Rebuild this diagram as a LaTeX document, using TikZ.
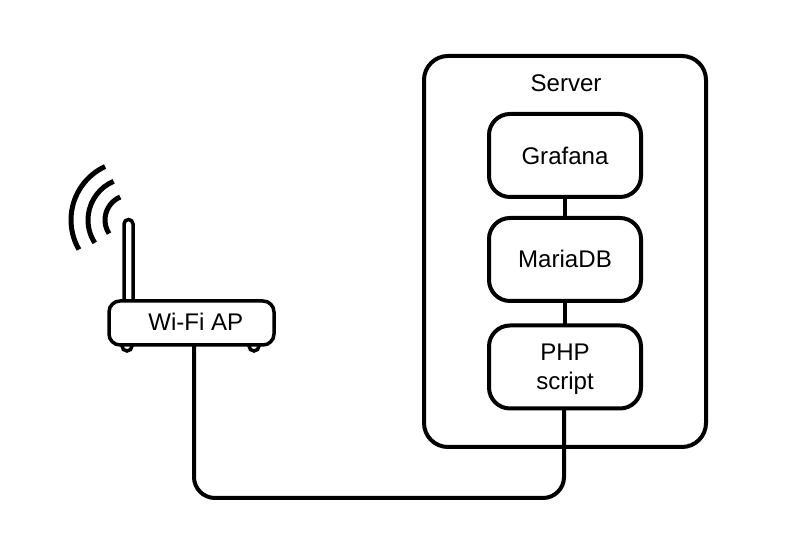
\documentclass[tikz,border=0pt]{standalone}
\usepackage{fontspec}
\setmainfont{Liberation Sans}
\tikzset{
  box/.style={draw, line width=0.08cm, rounded corners=0.42cm, fill=white, align=center, inner sep=0pt, outer sep=0pt, minimum width=3.04cm, minimum height=1.66cm},
  wave/.style={line width=0.1cm},
  wire/.style={line width=0.08cm, rounded corners=0.42cm}
}
\begin{document}
\begin{tikzpicture}[font=\fontsize{13.7}{16.5}\selectfont]
        \useasboundingbox (0,0) rectangle (16,11.04);
        \node[box, minimum width=5.64cm, minimum height=7.82cm, rounded corners=0.48cm] (server) at (11.3,6.01) {};
        \node[anchor=base] (servertitle) at (11.32,9.2) {Server};
        \node[box] (grafana) at (11.3,7.93) {Grafana};
        \node[box] (mariadb) at (11.3,5.85) {\raisebox{0.02cm}{MariaDB}};
        \node[box] (php) at (11.3,3.7) {\raisebox{0pt}[0.43cm]{PHP}\\script};
        \draw[wire] (grafana) -- (mariadb);
        \draw[wire] (mariadb) -- (php);
        \draw[line width=0.07cm, fill=white] (2.54,4.12) circle (0.1cm);
        \draw[line width=0.07cm, fill=white] (5.08,4.12) circle (0.1cm);
        \draw[line width=0.07cm] (2.48,4.98) -- (2.48,6.56) arc (180:0:0.09cm) -- (2.66,4.98);
        \node[box, line width=0.07cm, rounded corners=0.22cm, minimum width=3.3cm, minimum height=0.88cm] (router) at (3.83,4.58) {\hspace*{0.17cm}\raisebox{0.04cm}{Wi-Fi AP}};
        \coordinate (bendleft) at (3.88,1.08);
        \coordinate (bendright) at (11.28,1.08);
        \draw[wire] ([xshift=0.05cm]router.south) -- (bendleft) -- (bendright) -- ([xshift=-0.02cm]php.south);
        \coordinate (tip) at (2.6,6.64);
        \draw[wave] (tip) ++(113:0.5cm) arc (113:213:0.5cm);
        \draw[wave] (tip) ++(113:0.84cm) arc (113:213:0.84cm);
        \draw[wave] (tip) ++(115:1.18cm) arc (115:210:1.18cm);
\end{tikzpicture}
\end{document}
